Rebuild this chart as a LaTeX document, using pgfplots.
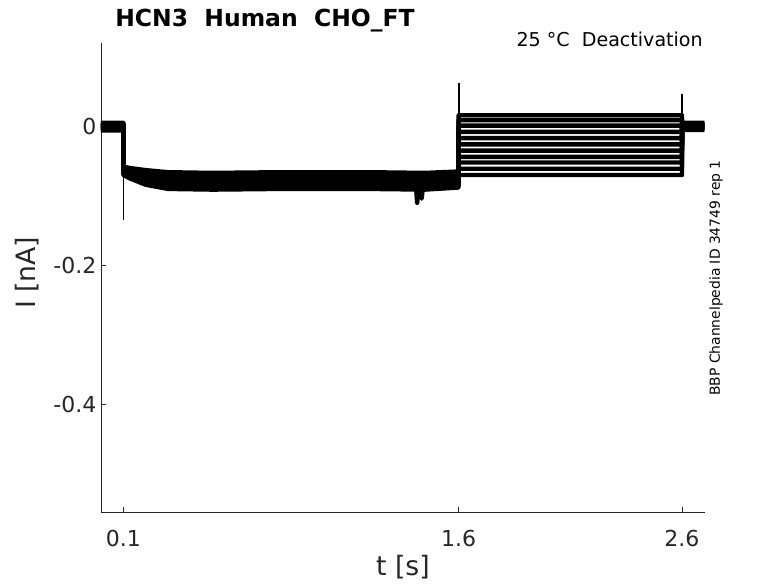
\documentclass[border=0pt]{standalone}
\usepackage{fontspec}
\setmainfont{DejaVu Sans}
\usepackage{pgfplots}
\pgfplotsset{compat=1.18}

\definecolor{axgray}{RGB}{38,38,38}

\begin{document}
\begin{tikzpicture}
\path[use as bounding box] (-75.75pt,-53.25pt) rectangle (507.75pt,384pt);
\begin{axis}[
  scale only axis,
  width=453pt, height=351.75pt,
  xmin=0, xmax=2.703,
  ymin=-0.555, ymax=0.12,
  axis lines=left,
  axis line style={-, axgray, line width=0.5pt},
  tick style={axgray, line width=0.5pt},
  tick align=inside,
  major tick length=3.75pt,
  xtick={0.1,1.6,2.6},
  xticklabels={0.1,1.6,2.6},
  ytick={-0.4,-0.2,0},
  yticklabels={-0.4,-0.2,0},
  /pgf/number format/assume math mode=true,
  ticklabel style={font=\fontsize{16.5}{20}\selectfont, text=axgray},
  xticklabel style={yshift=-10pt},
  xlabel={t [s]},
  ylabel={I [nA]},
  label style={font=\fontsize{20}{24}\selectfont, text=axgray},
  xlabel style={at={(axis description cs:0.5,-0.117)}, anchor=center},
  ylabel style={at={(axis description cs:-0.1225,0.51)}, anchor=center},
  clip=true,
  tr/.style={black, no markers, line width=3.3pt, line join=round},
  sp/.style={black, no markers, line width=1.3pt},
]
% sweeps
\addplot[tr] coordinates {(0,0.004) (0.1,0.004) (0.1005,-0.070) (0.13,-0.075) (0.2,-0.084) (0.3,-0.090) (0.5,-0.091) (0.8,-0.090) (1.2,-0.090) (1.45,-0.091) (1.599,-0.088) (1.6005,0.016) (2.6,0.016) (2.6005,0.004) (2.7,0.004)};
\addplot[tr] coordinates {(0,-0.003) (0.1,-0.003) (0.1005,-0.059) (0.13,-0.062) (0.2,-0.066) (0.3,-0.069) (0.5,-0.070) (0.8,-0.069) (1.2,-0.069) (1.45,-0.070) (1.599,-0.068) (1.6005,0.009) (2.6,0.009) (2.6005,-0.003) (2.7,-0.003)};
\addplot[tr] coordinates {(0,0.001) (0.1,0.001) (0.1005,-0.066) (0.13,-0.071) (0.2,-0.078) (0.3,-0.083) (0.5,-0.084) (0.8,-0.083) (1.2,-0.083) (1.45,-0.084) (1.599,-0.082) (1.6005,0.001) (2.6,0.001) (2.6005,0.001) (2.7,0.001)};
\addplot[tr] coordinates {(0,-0.006) (0.1,-0.006) (0.1005,-0.062) (0.13,-0.065) (0.2,-0.070) (0.3,-0.074) (0.5,-0.075) (0.8,-0.074) (1.2,-0.074) (1.45,-0.075) (1.599,-0.073) (1.6005,-0.008) (2.6,-0.008) (2.6005,-0.005) (2.7,-0.005)};
\addplot[tr] coordinates {(0,0.005) (0.1,0.005) (0.1005,-0.069) (0.13,-0.074) (0.2,-0.082) (0.3,-0.087) (0.5,-0.088) (0.8,-0.087) (1.2,-0.087) (1.41,-0.088) (1.415,-0.110) (1.42,-0.088) (1.43,-0.088) (1.435,-0.104) (1.44,-0.088) (1.599,-0.086) (1.6005,-0.017) (2.6,-0.017) (2.6005,0.005) (2.7,0.005)};
\addplot[tr] coordinates {(0,0.000) (0.1,0.000) (0.1005,-0.058) (0.13,-0.060) (0.2,-0.063) (0.3,-0.066) (0.5,-0.067) (0.8,-0.066) (1.2,-0.066) (1.45,-0.067) (1.599,-0.065) (1.6005,-0.026) (2.6,-0.026) (2.6005,0.000) (2.7,0.000)};
\addplot[tr] coordinates {(0,-0.004) (0.1,-0.004) (0.1005,-0.065) (0.13,-0.069) (0.2,-0.076) (0.3,-0.080) (0.5,-0.081) (0.8,-0.080) (1.2,-0.080) (1.45,-0.081) (1.599,-0.079) (1.6005,-0.035) (2.6,-0.035) (2.6005,-0.003) (2.7,-0.003)};
\addplot[tr] coordinates {(0,0.003) (0.1,0.003) (0.1005,-0.060) (0.13,-0.064) (0.2,-0.068) (0.3,-0.072) (0.5,-0.073) (0.8,-0.072) (1.2,-0.072) (1.45,-0.073) (1.599,-0.071) (1.6005,-0.044) (2.6,-0.044) (2.6005,0.003) (2.7,0.003)};
\addplot[tr] coordinates {(0,-0.001) (0.1,-0.001) (0.1005,-0.068) (0.13,-0.072) (0.2,-0.080) (0.3,-0.085) (0.5,-0.086) (0.8,-0.085) (1.2,-0.085) (1.45,-0.086) (1.599,-0.084) (1.6005,-0.052) (2.6,-0.052) (2.6005,-0.001) (2.7,-0.001)};
\addplot[tr] coordinates {(0,0.002) (0.1,0.002) (0.1005,-0.063) (0.13,-0.067) (0.2,-0.072) (0.3,-0.077) (0.5,-0.078) (0.8,-0.077) (1.2,-0.077) (1.45,-0.078) (1.599,-0.076) (1.6005,-0.061) (2.6,-0.061) (2.6005,0.002) (2.7,0.002)};
\addplot[tr] coordinates {(0,-0.002) (0.1,-0.002) (0.1005,-0.064) (0.13,-0.068) (0.2,-0.074) (0.3,-0.078) (0.5,-0.079) (0.8,-0.078) (1.2,-0.078) (1.45,-0.079) (1.599,-0.077) (1.6005,-0.070) (2.6,-0.070) (2.6005,-0.002) (2.7,-0.002)};
% capacitive spikes
\addplot[sp] coordinates {(0.1005,-0.005) (0.1005,-0.135)};
\addplot[sp] coordinates {(1.6005,-0.080) (1.6005,0.063)};
\addplot[sp] coordinates {(2.6005,-0.070) (2.6005,0.047)};
\end{axis}
\node[anchor=base west, inner sep=0pt, font=\fontsize{17.6}{21}\selectfont\bfseries] at (10.5pt,363.75pt) {HCN3\ \ Human\ \ CHO\_FT};
\node[anchor=base east, inner sep=0pt, font=\fontsize{14.3}{17}\selectfont] at (451.5pt,348.75pt) {25 °C\ \ Deactivation};
\node[rotate=90, anchor=center, inner sep=0pt, font=\fontsize{10.4}{12}\selectfont] at (461.25pt,175.5pt) {BBP Channelpedia ID 34749 rep 1};
\end{tikzpicture}
\end{document}
